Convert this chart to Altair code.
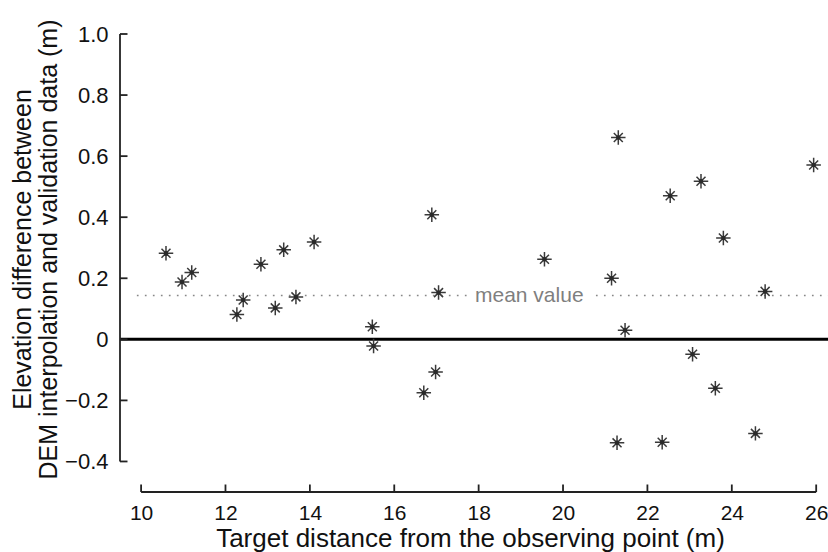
import altair as alt
import pandas as pd

# ---- data ----
distance = [10.59, 10.97, 11.20, 12.27, 12.42, 12.84, 13.18, 13.38, 13.67, 14.10,
            15.48, 15.51, 16.70, 16.89, 16.98, 17.05,
            19.56, 21.15, 21.28, 21.31, 21.47,
            22.35, 22.54, 23.07, 23.27, 23.61, 23.80, 24.56, 24.79, 25.94]
elev_diff = [0.282, 0.188, 0.219, 0.081, 0.129, 0.246, 0.103, 0.293, 0.139, 0.319,
             0.041, -0.022, -0.175, 0.408, -0.107, 0.153,
             0.262, 0.200, -0.339, 0.661, 0.030,
             -0.337, 0.470, -0.049, 0.518, -0.160, 0.332, -0.308, 0.157, 0.571]
x_ticks = [10, 12, 14, 16, 18, 20, 22, 24, 26]
y_ticks = [-0.4, -0.2, 0, 0.2, 0.4, 0.6, 0.8, 1.0]

mean_val = sum(elev_diff) / len(elev_diff)

X_DOM = [9.5, 26.28]
Y_DOM = [-0.5, 1.0]

df = pd.DataFrame({"d": distance, "e": elev_diff})

xs = alt.Scale(domain=X_DOM, nice=False, zero=False)
ys = alt.Scale(domain=Y_DOM, nice=False, zero=False)

FONT = "Liberation Sans"

x_axis = alt.Axis(values=x_ticks, domain=False, ticks=False, tickSize=0, grid=False,
                  labelFontSize=21, labelFont=FONT, labelColor="#111",
                  labelPadding=10, title="Target distance from the observing point (m)",
                  titleFontSize=26, titleFont=FONT, titleFontWeight="normal",
                  titleColor="#111", titlePadding=2, titleX=350,
                  labelExpr="format(datum.value, 'd')")
y_axis = alt.Axis(values=y_ticks, domain=False, ticks=False, tickSize=0, grid=False,
                  labelFontSize=22, labelFont=FONT, labelColor="#111",
                  labelPadding=12,
                  labelExpr="datum.value == 0 ? '0' : format(datum.value, '.1f')",
                  title=["Elevation difference between", "DEM interpolation and validation data (m)"],
                  titleFontSize=25, titleFont=FONT, titleFontWeight="normal",
                  titleColor="#111", titlePadding=3, titleY=215, titleLineHeight=26)

base = alt.Chart(df)

# zero line
zero = alt.Chart(pd.DataFrame({"y": [0]})).mark_rule(color="#000", strokeWidth=3).encode(
    y=alt.Y("y:Q", scale=ys, axis=y_axis))

# mean line (two segments around the label)
mean_df = pd.DataFrame({"x1": [9.9, 20.78], "x2": [17.75, X_DOM[1]], "y": [mean_val, mean_val]})
mean_line = alt.Chart(mean_df).mark_rule(color="#888888", strokeWidth=1.7, strokeDash=[1.7, 6.3]).encode(
    x=alt.X("x1:Q", scale=xs, axis=x_axis), x2="x2:Q", y=alt.Y("y:Q", scale=ys))
mean_txt = alt.Chart(pd.DataFrame({"x": [19.2], "y": [mean_val], "t": ["mean value"]})).mark_text(
    font=FONT, fontSize=21, color="#7f7f7f", baseline="middle", align="center").encode(
    x=alt.X("x:Q", scale=xs), y=alt.Y("y:Q", scale=ys), text="t:N")

# axis lines and inward ticks
yline = alt.Chart(pd.DataFrame({"x": [X_DOM[0]], "y1": [y_ticks[0]], "y2": [y_ticks[-1]]})).mark_rule(
    color="#222", strokeWidth=1.8).encode(x=alt.X("x:Q", scale=xs), y=alt.Y("y1:Q", scale=ys), y2="y2:Q")
ytk = alt.Chart(pd.DataFrame({"y": y_ticks})).transform_calculate(
    x1=str(X_DOM[0]), x2=str(X_DOM[0] + 7.5 / 42.19)).mark_rule(color="#222", strokeWidth=1.8).encode(
    x=alt.X("x1:Q", scale=xs), x2="x2:Q", y=alt.Y("y:Q", scale=ys))
xline = alt.Chart(pd.DataFrame({"x1": [x_ticks[0]], "x2": [x_ticks[-1]], "y": [Y_DOM[0]]})).mark_rule(
    color="#222", strokeWidth=1.8).encode(x=alt.X("x1:Q", scale=xs), x2="x2:Q", y=alt.Y("y:Q", scale=ys))
xtk = alt.Chart(pd.DataFrame({"x": x_ticks})).transform_calculate(
    y1=str(Y_DOM[0]), y2=str(Y_DOM[0] + 7.5 / 305.3)).mark_rule(color="#222", strokeWidth=1.8).encode(
    x=alt.X("x:Q", scale=xs), y=alt.Y("y1:Q", scale=ys), y2="y2:Q")

star_path = "M-1,0L1,0M0,-1L0,1M-0.62,-0.62L0.62,0.62M-0.62,0.62L0.62,-0.62"
stars = base.mark_point(shape=star_path, size=210, filled=False, stroke="#3a3a3a",
                        strokeWidth=1.5, opacity=1).encode(
    x=alt.X("d:Q", scale=xs), y=alt.Y("e:Q", scale=ys))
dots = base.mark_point(shape="circle", size=20, filled=True, color="#2a2a2a", opacity=1).encode(
    x=alt.X("d:Q", scale=xs), y=alt.Y("e:Q", scale=ys))

chart = alt.layer(zero, mean_line, mean_txt, yline, ytk, xline, xtk, stars, dots).properties(
    width=708, height=458,
    autosize=alt.AutoSizeParams(type="none"),
    padding={"left": 120, "top": 34, "right": 0, "bottom": 60},
    background="white",
).configure_view(stroke=None)

chart.save("out.html", embed_options={"renderer": "svg", "actions": False})
